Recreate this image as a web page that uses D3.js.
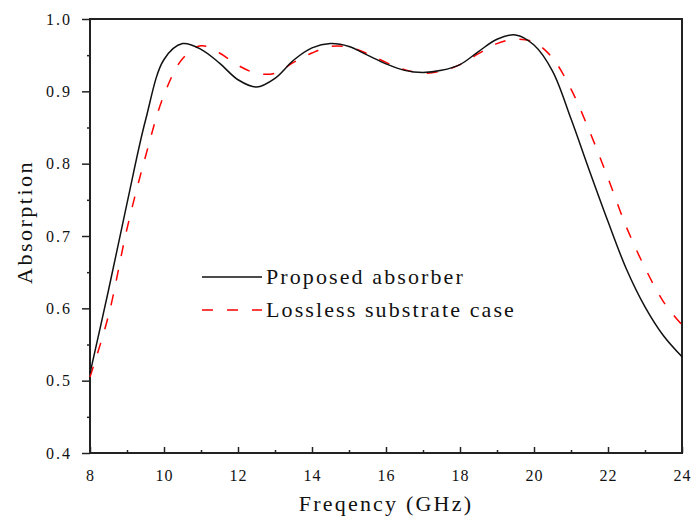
<!DOCTYPE html>
<html>
<head>
<meta charset="utf-8">
<script src="https://cdn.jsdelivr.net/npm/d3@7"></script>
<style>
  body { margin: 0; background: #fff; }
  text { font-family: "Liberation Serif", "Times New Roman", serif; fill: #111; }
</style>
</head>
<body>
<svg id="chart" width="691" height="522"></svg>
<script>
// data
const freq = [8, 8.5, 9, 9.5, 10, 10.5, 11, 11.5, 12, 12.5, 13, 13.5, 14, 14.5, 15, 15.5,
  16, 16.5, 17, 17.5, 18, 18.5, 19, 19.5, 20, 20.5, 21, 21.5, 22, 22.5, 23, 23.5, 24];
const proposed = [0.51, 0.625, 0.745, 0.86, 0.944, 0.966, 0.958, 0.939, 0.916, 0.906, 0.918, 0.943,
  0.96, 0.966, 0.962, 0.95, 0.938, 0.929, 0.926, 0.929, 0.937, 0.955, 0.972, 0.978, 0.964,
  0.928, 0.862, 0.79, 0.72, 0.654, 0.602, 0.562, 0.533];
const lossless = [0.505, 0.59, 0.71, 0.81, 0.895, 0.945, 0.963, 0.953, 0.936, 0.925, 0.925, 0.94,
  0.953, 0.962, 0.961, 0.952, 0.94, 0.93, 0.925, 0.928, 0.937, 0.952, 0.966, 0.972, 0.968,
  0.946, 0.903, 0.845, 0.78, 0.712, 0.656, 0.609, 0.577];
const xTicks = [8, 10, 12, 14, 16, 18, 20, 22, 24];
const yTicks = [0.4, 0.5, 0.6, 0.7, 0.8, 0.9, 1.0];
const seriesNames = ["Proposed absorber", "Lossless substrate case"];

const margin = { top: 19, right: 9, bottom: 69, left: 90 },
  width = 691 - margin.left - margin.right,
  height = 522 - margin.top - margin.bottom;

const svg = d3.select("#chart")
  .append("g")
  .attr("transform", `translate(${margin.left},${margin.top})`);

const x = d3.scaleLinear().domain([8, 24]).range([0, width]);
const y = d3.scaleLinear().domain([0.4, 1.0]).range([height, 0]);

// minor ticks
svg.append("g")
  .attr("transform", `translate(0,${height})`)
  .call(d3.axisBottom(x).tickValues(d3.range(9, 24, 2)).tickSize(-3).tickFormat(""))
  .call(g => g.select(".domain").remove())
  .selectAll("line").attr("stroke", "#222").attr("stroke-width", 1.5);

svg.append("g")
  .call(d3.axisLeft(y).tickValues(d3.range(0.45, 1.0, 0.1)).tickSize(3).tickFormat(""))
  .call(g => g.select(".domain").remove())
  .selectAll("line").attr("stroke", "#222").attr("stroke-width", 1.5);

// X axis
const xAxis = svg.append("g")
  .attr("transform", `translate(0,${height})`)
  .call(d3.axisBottom(x).tickValues(xTicks).tickSize(-6).tickPadding(17).tickFormat(d3.format("d")));
xAxis.select(".domain").remove();
xAxis.selectAll("line").attr("stroke", "#222").attr("stroke-width", 1.5);
xAxis.selectAll("text")
  .style("font-family", "'Liberation Serif', serif")
  .style("font-size", "16px")
  .style("letter-spacing", "1px")
  .attr("fill", "#111");

// Y axis
const yAxis = svg.append("g")
  .call(d3.axisLeft(y).tickValues(yTicks).tickSize(8).tickPadding(10).tickFormat(d3.format(".1f")));
yAxis.select(".domain").remove();
yAxis.selectAll("line").attr("stroke", "#222").attr("stroke-width", 1.5);
yAxis.selectAll("text")
  .style("font-family", "'Liberation Serif', serif")
  .style("font-size", "16px")
  .style("letter-spacing", "2px")
  .attr("fill", "#111");

// frame
svg.append("rect")
  .attr("width", width)
  .attr("height", height)
  .attr("fill", "none")
  .attr("stroke", "#222")
  .attr("stroke-width", 2);

// curves
const line = d3.line()
  .x(d => x(d[0]))
  .y(d => y(d[1]))
  .curve(d3.curveCatmullRom.alpha(0.5));

svg.append("path")
  .datum(freq.map((f, i) => [f, lossless[i]]))
  .attr("d", line)
  .attr("fill", "none")
  .attr("stroke", "#ff0000")
  .attr("stroke-width", 1.5)
  .attr("stroke-dasharray", "11,14");

svg.append("path")
  .datum(freq.map((f, i) => [f, proposed[i]]))
  .attr("d", line)
  .attr("fill", "none")
  .attr("stroke", "#111")
  .attr("stroke-width", 1.5);

// legend
const legend = svg.append("g").attr("transform", "translate(112, 258)");
const legendStyles = [
  { color: "#111", dash: null },
  { color: "#ff0000", dash: "11,14" }
];
seriesNames.forEach((name, i) => {
  const row = legend.append("g").attr("transform", `translate(0, ${i * 33})`);
  row.append("line")
    .attr("x1", 0).attr("x2", 60)
    .attr("stroke", legendStyles[i].color)
    .attr("stroke-width", 1.5)
    .attr("stroke-dasharray", legendStyles[i].dash);
  row.append("text")
    .attr("x", 64)
    .attr("y", 7)
    .style("font-size", "22px")
    .style("letter-spacing", "2.1px")
    .text(name);
});

// axis titles
svg.append("text")
  .attr("x", width / 2)
  .attr("y", height + 58)
  .attr("text-anchor", "middle")
  .style("font-size", "22px")
  .style("letter-spacing", "2.2px")
  .text("Freqency (GHz)");

svg.append("text")
  .attr("transform", `translate(-58, 203) rotate(-90)`)
  .attr("text-anchor", "middle")
  .style("font-size", "22px")
  .style("letter-spacing", "2.5px")
  .text("Absorption");
</script>
</body>
</html>
